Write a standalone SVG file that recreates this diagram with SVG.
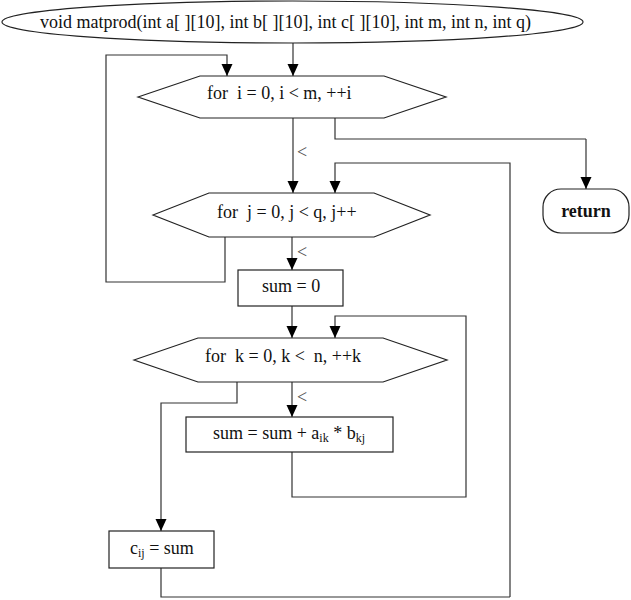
<svg xmlns="http://www.w3.org/2000/svg" width="631" height="600" viewBox="0 0 631 600">
<defs>
<marker id="ah" markerUnits="userSpaceOnUse" markerWidth="12" markerHeight="12" refX="12" refY="5.5" orient="auto">
<path d="M0,0 L12,5.5 L0,11 z" fill="#000"/>
</marker>
<style>
.s{fill:#fff;stroke:#222;stroke-width:1.2}
.t{font-size:18px;fill:#111}
.c{fill:none;stroke:#333;stroke-width:1.2}
.a{fill:none;stroke:#333;stroke-width:1.2;marker-end:url(#ah)}
.lb{font-size:18px;fill:#555}
</style>
</defs>
<rect width="631" height="600" fill="#fff"/>
<g id="connectors">
<path class="a" d="M293,43 V76"/>
<path class="a" d="M225,237 V282 H106 V55 H227 V76"/>
<path class="c" d="M335,118 V139 H586"/>
<path class="a" d="M586,139 V189"/>
<path class="a" d="M293,118 V193"/>
<path class="a" d="M510,597 V163 H335 V193"/>
<path class="a" d="M292,237 V270"/>
<path class="a" d="M292,306 V338"/>
<path class="a" d="M292,452 V497 H466 V316 H335 V338"/>
<path class="a" d="M292,382 V417"/>
<path class="a" d="M237,382 V403 H161 V531"/>
<path class="c" d="M161,568 V597 H510"/>
<text class="lb" x="297" y="158" font-family="Liberation Serif">&lt;</text>
<text class="lb" x="297" y="258" font-family="Liberation Serif">&lt;</text>
<text class="lb" x="297" y="403" font-family="Liberation Serif">&lt;</text>
</g>
<g id="start">
<ellipse class="s" cx="292.5" cy="22" rx="290.5" ry="21"/>
<text class="t" x="40" y="28" font-family="Liberation Serif" xml:space="preserve">void matprod(int a[ ][10], int b[ ][10], int c[ ][10], int m, int n, int q)</text>
</g>
<g id="loop_i">
<polygon class="s" points="138,97 200,76 384,76 446,97 384,118 200,118"/>
<text class="t" x="207" y="99" font-family="Liberation Serif" xml:space="preserve">for  i = 0, i &lt; m, ++i</text>
</g>
<g id="return">
<rect class="s" x="543" y="189" width="86" height="44" rx="18" ry="18"/>
<text class="t" x="586" y="217" text-anchor="middle" font-weight="bold" font-family="Liberation Serif">return</text>
</g>
<g id="loop_j">
<polygon class="s" points="153,215 209,193 374,193 430,215 374,237 209,237"/>
<text class="t" x="217" y="218" font-family="Liberation Serif" xml:space="preserve">for  j = 0, j &lt; q, j++</text>
</g>
<g id="sum0">
<rect class="s" x="238" y="270" width="105" height="36"/>
<text class="t" x="262" y="292" font-family="Liberation Serif">sum = 0</text>
</g>
<g id="loop_k">
<polygon class="s" points="134,360 198,338 383,338 447,360 383,382 198,382"/>
<text class="t" x="205" y="362" font-family="Liberation Serif" xml:space="preserve">for  k = 0, k &lt;  n, ++k</text>
</g>
<g id="accumulate">
<rect class="s" x="186" y="417" width="207" height="35"/>
<text class="t" x="213" y="439" font-family="Liberation Serif" xml:space="preserve">sum = sum + a<tspan font-size="12" dy="3">ik</tspan><tspan dy="-3"> * b</tspan><tspan font-size="12" dy="3">kj</tspan></text>
</g>
<g id="store">
<rect class="s" x="109" y="531" width="105" height="37"/>
<text class="t" x="130" y="554" font-family="Liberation Serif">c<tspan font-size="12" dy="3">ij</tspan><tspan dy="-3"> = sum</tspan></text>
</g>
</svg>
